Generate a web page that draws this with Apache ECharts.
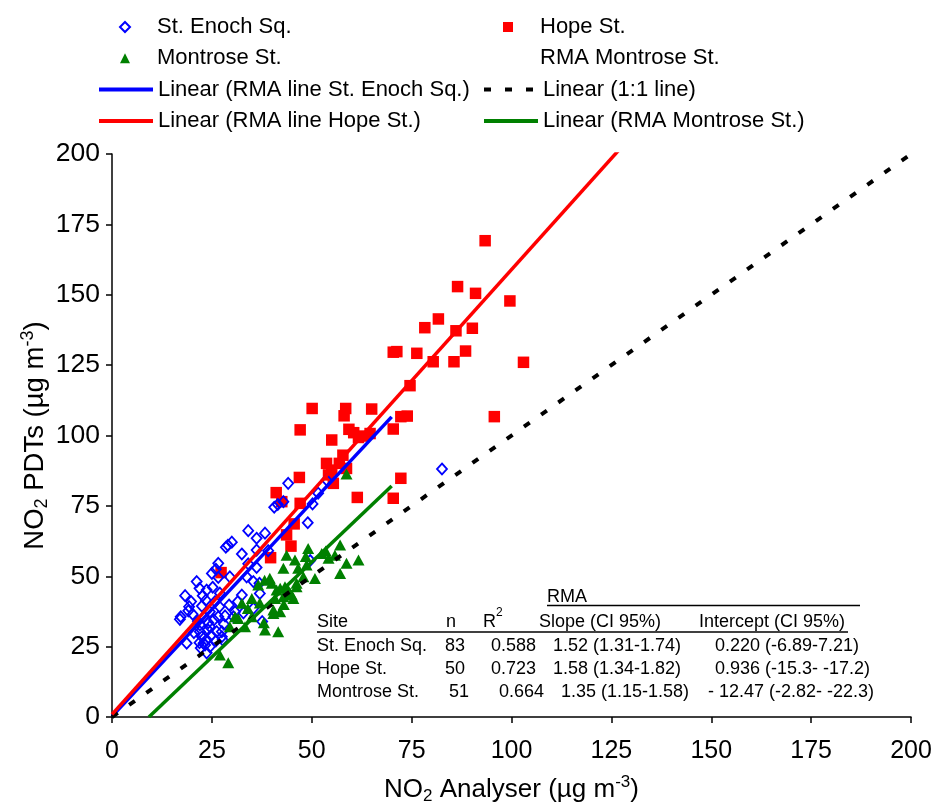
<!DOCTYPE html>
<html>
<head>
<meta charset="utf-8">
<script src="https://cdn.jsdelivr.net/npm/echarts@6/dist/echarts.min.js"></script>
<style>
  html, body { margin: 0; padding: 0; background: #ffffff; }
  #chart { width: 935px; height: 805px; }
</style>
</head>
<body>
<div id="chart"></div>
<script>
// NO2 analyser vs passive diffusion tubes, three sites: [analyser, PDT] in µg m-3
const stEnochSq = [
  [44.1, 83.0], [40.6, 74.5], [42.9, 76.5], [50.2, 75.7], [49.0, 69.0], [34.1, 66.2], [36.2, 63.5],
  [38.3, 65.3], [30.0, 62.1], [28.5, 60.3], [32.5, 57.9], [36.2, 59.3], [26.6, 54.6], [25.0, 51.0],
  [21.2, 48.1], [21.9, 45.7], [23.7, 45.1], [25.2, 46.1], [18.3, 43.1], [22.7, 43.1], [29.5, 49.8],
  [33.7, 49.8], [36.2, 53.1], [36.9, 47.5], [32.5, 43.3], [37.0, 43.9], [19.3, 39.2], [19.1, 37.7],
  [17.2, 35.6], [17.0, 34.7], [22.5, 39.4], [24.5, 37.4], [26.9, 39.2], [26.6, 35.6], [28.3, 35.9],
  [24.1, 33.5], [26.2, 30.3], [24.5, 32.1], [22.0, 30.3], [22.5, 28.5], [23.7, 27.4], [22.9, 26.2],
  [18.7, 26.2], [23.7, 22.8], [30.8, 37.4], [30.4, 35.6], [35.4, 38.6], [37.6, 33.9], [27.5, 30.3],
  [27.7, 27.4], [34.1, 54.4], [51.6, 79.5], [53.7, 84.2], [82.6, 88.1], [39.1, 59.1], [32.9, 37.0],
  [23.3, 25.6], [21.9, 26.4], [24.5, 25.0], [27.5, 28.5], [22.0, 32.7], [35.4, 48.1], [26.6, 49.6],
  [49.6, 55.6], [20.2, 36.5], [21.5, 34.0], [23.0, 35.5], [25.5, 34.5], [24.8, 29.0], [26.0, 27.0],
  [22.2, 24.5], [20.5, 30.0], [25.8, 41.0], [23.5, 41.5], [28.0, 33.0], [29.3, 39.8], [31.5, 41.0],
  [19.8, 41.0], [27.0, 44.0], [26.0, 52.5], [29.0, 61.0], [24.0, 31.0], [41.5, 75.5]
];

const hopeSt = [
  [93.4, 169.2], [86.5, 152.9], [91.0, 150.5], [99.6, 147.8], [81.7, 141.4], [78.3, 138.3], [86.1, 137.2],
  [90.2, 138.1], [88.5, 130.0], [85.6, 126.2], [80.4, 126.2], [76.3, 129.2], [71.3, 129.8], [70.4, 129.6],
  [103.0, 126.0], [74.6, 117.7], [73.9, 106.9], [72.3, 106.7], [95.7, 106.7], [65.0, 109.4], [58.5, 109.6],
  [50.1, 109.6], [58.1, 107.0], [47.1, 102.0], [59.3, 102.2], [55.0, 98.4], [61.7, 99.3], [64.6, 100.7],
  [70.4, 102.3], [53.7, 90.1], [56.9, 90.1], [55.0, 87.7], [58.7, 88.3], [55.4, 83.0], [46.9, 85.1],
  [61.4, 78.0], [70.4, 77.7], [72.3, 84.8], [41.1, 79.7], [42.5, 76.5], [47.1, 75.9], [45.6, 68.6],
  [43.7, 64.7], [44.8, 60.7], [39.7, 56.6], [27.3, 51.3], [63.0, 99.8], [54.2, 86.0], [57.8, 93.0],
  [60.5, 101.0]
];

const montroseSt = [
  [49.1, 59.9], [43.7, 57.5], [45.8, 55.8], [52.5, 58.1], [57.1, 61.1], [54.2, 56.4], [58.7, 54.6],
  [61.7, 55.8], [57.1, 51.0], [42.9, 52.8], [46.6, 52.8], [48.7, 54.0], [47.9, 49.8], [46.2, 47.5],
  [39.5, 49.3], [40.0, 47.5], [36.6, 46.9], [42.1, 45.7], [44.1, 45.1], [45.0, 43.3], [42.9, 42.7],
  [40.8, 42.1], [35.0, 42.1], [32.5, 40.4], [40.4, 38.0], [42.1, 37.4], [35.0, 35.6], [31.6, 35.0],
  [33.3, 32.1], [29.5, 32.1], [38.3, 30.9], [41.6, 30.3], [30.8, 35.6], [27.0, 22.0], [29.1, 19.3],
  [58.7, 86.3], [50.8, 49.2], [43.3, 46.3], [41.2, 45.1], [45.4, 42.1], [40.4, 36.8], [38.2, 48.6],
  [46.2, 46.3], [53.5, 59.0], [55.8, 57.5], [44.6, 44.0], [38.0, 33.5], [34.0, 38.5], [48.5, 57.0],
  [37.0, 40.5], [43.0, 40.0]
];

// Reduced major axis regression results per site
const rmaSites = ['St. Enoch Sq.', 'Hope St.', 'Montrose St.'];
const rmaN = ['83', '50', '51'];
const rmaR2 = ['0.588', '0.723', '0.664'];
const rmaSlope = [1.52, 1.58, 1.35];
const rmaSlopeText = ['1.52', '1.58', '1.35'];
const rmaSlopeCI = ['(1.31-1.74)', '(1.34-1.82)', '(1.15-1.58)'];
const rmaIntercept = [0.220, 0.936, -12.47];
const rmaInterceptText = ['0.220 (-6.89-7.21)', '0.936 (-15.3- -17.2)', '- 12.47 (-2.82- -22.3)'];
// x extent of each fitted line (analyser range)
const rmaXEnd = [70, 130, 70];
const oneToOne = [[0, 0], [200, 200]];

const axisMin = 0, axisMax = 200, axisStep = 25;

const FONT = "'Liberation Sans', Arial, sans-serif";

function rmaLine(i) {
  const m = rmaSlope[i], b = rmaIntercept[i];
  const x0 = Math.max(0, -b / m);
  return [[x0, m * x0 + b], [rmaXEnd[i], m * rmaXEnd[i] + b]];
}

const chart = echarts.init(document.getElementById('chart'), null, { renderer: 'canvas' });

const legendText = { fontSize: 22, fontFamily: FONT, color: '#000', lineHeight: 22 };
const ROW = 31.3;
const LEG_TOP = 16;

function markerLegend(left, names) {
  return {
    orient: 'vertical', left: left, top: LEG_TOP, padding: 0,
    itemWidth: 10, itemHeight: 10, itemGap: ROW - 22,
    textStyle: Object.assign({}, legendText, { padding: [0, 0, 0, 22] }),
    selectedMode: false, data: names
  };
}
function lineLegend(left, names) {
  return {
    orient: 'vertical', left: left, top: LEG_TOP + 2 * ROW, padding: 0,
    itemWidth: 54, itemHeight: 10, itemGap: ROW - 22,
    itemStyle: { opacity: 0 },
    lineStyle: { width: 4 },
    textStyle: legendText,
    selectedMode: false, data: names
  };
}

// in-plot results table
const tableFont = { fontSize: 18, fontFamily: FONT, fill: '#000' };
function txt(text, x, y, extra) {
  return {
    type: 'text', x: x, y: y, silent: true,
    style: Object.assign({ text: text, verticalAlign: 'middle', align: 'left' }, tableFont, extra || {})
  };
}
function hline(x1, x2, y) {
  return { type: 'line', silent: true, shape: { x1: x1, y1: y, x2: x2, y2: y }, style: { stroke: '#000', lineWidth: 1.5 } };
}
const rowY = [646, 669, 692];
const colN = [445, 445, 449];
const colR2 = [491, 491, 499];
const colSlope = [553, 553, 561];
const colInt = [715, 715, 708];
const tableEls = [
  txt('RMA', 547, 597),
  hline(547, 860, 605.5),
  txt('Site', 317, 622),
  txt('n', 446, 622),
  txt('R', 483, 622),
  txt('2', 496, 613, { fontSize: 12 }),
  txt('Slope (CI 95%)', 539, 622),
  txt('Intercept (CI 95%)', 699, 622),
  hline(317, 848, 632)
];
rmaSites.forEach(function (s, i) {
  tableEls.push(txt(s, 317, rowY[i]));
  tableEls.push(txt(rmaN[i], colN[i], rowY[i]));
  tableEls.push(txt(rmaR2[i], colR2[i], rowY[i]));
  tableEls.push(txt(rmaSlopeText[i] + ' ' + rmaSlopeCI[i], colSlope[i], rowY[i]));
  tableEls.push(txt(rmaInterceptText[i], colInt[i], rowY[i]));
});

function nameRich(size) {
  return {
    sub: { fontSize: size, fontFamily: FONT, color: '#000', verticalAlign: 'bottom', lineHeight: size },
    sup: { fontSize: size, fontFamily: FONT, color: '#000', verticalAlign: 'top', lineHeight: size }
  };
}

const axisCommon = {
  type: 'value', min: axisMin, max: axisMax, interval: axisStep,
  splitLine: { show: false },
  axisLine: { show: true, onZero: false, lineStyle: { color: '#000', width: 1.5 } },
  axisTick: { show: true, inside: false, length: 6, lineStyle: { color: '#000', width: 1.5 } },
  nameLocation: 'middle',
  nameMoveOverlap: false
};

const option = {
  animation: false,
  backgroundColor: '#ffffff',
  grid: { left: 112, top: 154, width: 799, height: 563, containLabel: false, outerBoundsMode: 'none' },
  xAxis: Object.assign({}, axisCommon, {
    axisLabel: { fontSize: 25, fontFamily: FONT, color: '#000', margin: 22 },
    name: 'NO{sub|2} Analyser (µg m{sup|-3})',
    nameGap: 57,
    nameTextStyle: { fontSize: 26, fontFamily: FONT, color: '#000', lineHeight: 31, rich: nameRich(17) }
  }),
  yAxis: Object.assign({}, axisCommon, {
    axisLabel: { fontSize: 26.5, fontFamily: FONT, color: '#000', margin: 12 },
    name: 'NO{sub|2} PDTs (µg m{sup|-3})',
    nameRotate: 90,
    nameGap: 61,
    nameTextStyle: { fontSize: 27.5, fontFamily: FONT, color: '#000', lineHeight: 32, rich: nameRich(18) }
  }),
  legend: [
    markerLegend(119, ['St. Enoch Sq.', 'Montrose St.']),
    lineLegend(97, ['Linear (RMA line St. Enoch Sq.)', 'Linear (RMA line Hope St.)']),
    markerLegend(503, ['Hope St.', { name: 'RMA Montrose St.', icon: 'none' }]),
    lineLegend(482, ['Linear (1:1 line)', 'Linear (RMA Montrose St.)'])
  ],
  graphic: tableEls,
  series: [
    {
      name: 'Hope St.', type: 'scatter', data: hopeSt,
      symbol: 'rect', symbolSize: 11.5,
      itemStyle: { color: '#ff0000', opacity: 1 }
    },
    {
      name: 'St. Enoch Sq.', type: 'scatter', data: stEnochSq,
      symbol: 'diamond', symbolSize: [10, 11],
      itemStyle: { color: 'rgba(0,0,0,0)', borderColor: '#0000ff', borderWidth: 1.8, opacity: 1 }
    },
    {
      name: 'Montrose St.', type: 'scatter', data: montroseSt,
      symbol: 'triangle', symbolSize: [12, 11],
      itemStyle: { color: '#008000', opacity: 1 }
    },
    {
      name: 'RMA Montrose St.', type: 'scatter', data: [],
      itemStyle: { color: 'rgba(0,0,0,0)' }
    },
    {
      name: 'Linear (RMA line St. Enoch Sq.)', type: 'line', data: rmaLine(0),
      symbol: 'none', lineStyle: { color: '#0000ff', width: 3.5 }, itemStyle: { color: '#0000ff' }
    },
    {
      name: 'Linear (1:1 line)', type: 'line', data: oneToOne,
      symbol: 'none', lineStyle: { color: '#000', width: 4, type: [7, 14] }, itemStyle: { color: '#000' }
    },
    {
      name: 'Linear (RMA line Hope St.)', type: 'line', data: rmaLine(1), clip: true,
      symbol: 'none', lineStyle: { color: '#ff0000', width: 3.5 }, itemStyle: { color: '#ff0000' }
    },
    {
      name: 'Linear (RMA Montrose St.)', type: 'line', data: rmaLine(2),
      symbol: 'none', lineStyle: { color: '#008000', width: 3.5 }, itemStyle: { color: '#008000' }
    }
  ]
};

chart.setOption(option);
</script>
</body>
</html>
